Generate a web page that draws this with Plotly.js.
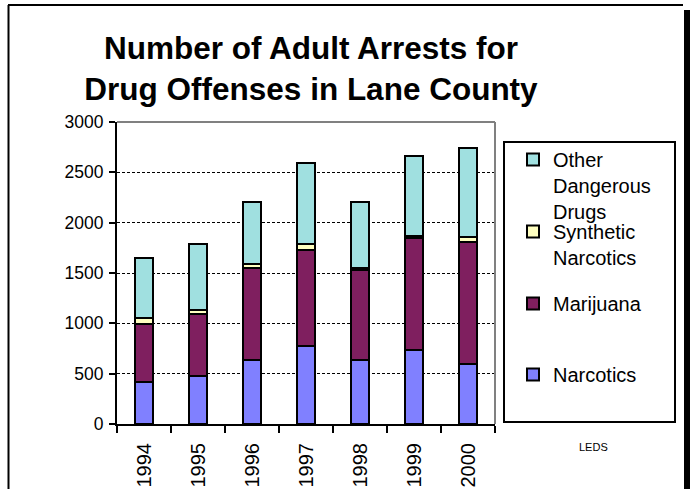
<!DOCTYPE html>
<html>
<head>
<meta charset="utf-8">
<script src="https://cdn.plot.ly/plotly-3.0.1.min.js"></script>
<style>html,body{margin:0;padding:0;background:#fff;}#chart{width:693px;height:489px;}</style>
</head>
<body>
<div id="chart"></div>
<script>
// ---- data ----
const years = ["1994", "1995", "1996", "1997", "1998", "1999", "2000"];
const narcotics = [415, 474, 634, 773, 634, 737, 594];
const marijuana = [574, 618, 915, 956, 896, 1108, 1214];
const syntheticNarcotics = [63, 39, 40, 63, 19, 23, 47];
const otherDangerousDrugs = [600, 657, 617, 796, 657, 796, 886];
const seriesNames = ["Narcotics", "Marijuana", "Synthetic<br>Narcotics", "Other<br>Dangerous<br>Drugs"];
const yTicks = [0, 500, 1000, 1500, 2000, 2500, 3000];

// ---- helpers: pixel -> paper ----
const L = 117, R = 495, T = 122, B = 424;
const px = x => (x - L) / (R - L);
const py = y => (B - y) / (B - T);

const colors = ["#8080FF", "#7F1F5F", "#FFFFC0", "#A0E0E0"];
const seriesVals = [narcotics, marijuana, syntheticNarcotics, otherDangerousDrugs];
const legendIds = ["legend4", "legend3", "legend2", "legend"];

const traces = seriesVals.map((vals, i) => ({
  type: "bar",
  x: years,
  y: vals,
  name: seriesNames[i],
  legend: legendIds[i],
  marker: { color: colors[i], line: { color: "#000", width: 2 } },
  hoverinfo: "x+y+name"
}));

const legendFont = { family: "Liberation Sans, Arial, sans-serif", size: 20, color: "#000" };
function leg(yTopPx) {
  return {
    x: px(513), xanchor: "left", y: py(yTopPx), yanchor: "top",
    valign: "top", bgcolor: "rgba(0,0,0,0)", borderwidth: 0,
    font: legendFont, tracegroupgap: 0
  };
}

const layout = {
  width: 693, height: 489,
  margin: { l: L, r: 693 - R, t: T, b: 489 - B, pad: 0 },
  paper_bgcolor: "#fff", plot_bgcolor: "#fff",
  barmode: "stack", bargap: 0.65,
  font: { family: "Liberation Sans, Arial, sans-serif", color: "#000" },
  title: {
    text: "Number of Adult Arrests for<br>Drug Offenses in Lane County",
    font: { family: "Liberation Sans, Arial, sans-serif", size: 31.5, color: "#000", weight: "bold" },
    x: 311 / 693, xanchor: "center", xref: "container",
    y: 1 - 59 / 489, yanchor: "middle", yref: "container"
  },
  xaxis: {
    type: "category", tickson: "boundaries", ticks: "outside", ticklen: 7, tickwidth: 2, tickcolor: "#000",
    tickangle: -90, tickfont: { size: 20, color: "#000" }, ticklabelstandoff: 9,
    showline: true, linecolor: "#000", linewidth: 2, showgrid: false, zeroline: false,
    fixedrange: true
  },
  yaxis: {
    range: [0, 3000], tickvals: yTicks, ticktext: yTicks.map(String),
    ticks: "outside", ticklen: 6, tickwidth: 2, tickcolor: "#000",
    tickfont: { size: 17.5, color: "#000" }, ticklabelstandoff: 2,
    showline: true, linecolor: "#000", linewidth: 2,
    showgrid: true, gridcolor: "#000", gridwidth: 1, griddash: "3px,2px",
    zeroline: false, fixedrange: true
  },
  showlegend: true,
  legend: leg(140),
  legend2: leg(212),
  legend3: leg(284),
  legend4: leg(355),
  shapes: [
    // plot area gray border (top & right)
    { type: "line", xref: "paper", yref: "paper", x0: 0, x1: 1, y0: 1, y1: 1, line: { color: "#808080", width: 2 } },
    { type: "line", xref: "paper", yref: "paper", x0: 1, x1: 1, y0: 0, y1: 1, line: { color: "#808080", width: 2 } },
    // legend box
    { type: "rect", xref: "paper", yref: "paper", x0: px(504), x1: px(675), y0: py(422), y1: py(142), line: { color: "#000", width: 2 }, fillcolor: "rgba(0,0,0,0)" },
    // outer frame
    { type: "line", xref: "paper", yref: "paper", x0: px(8.5), x1: px(8.5), y0: py(5), y1: py(489), line: { color: "#000", width: 2 } },
    { type: "line", xref: "paper", yref: "paper", x0: px(8), x1: px(683), y0: py(5), y1: py(5), line: { color: "#000", width: 2 } },
    { type: "rect", xref: "paper", yref: "paper", x0: px(684), x1: px(690), y0: py(489), y1: py(10), line: { width: 0 }, fillcolor: "#000" }
  ],
  annotations: [
    { text: "LEDS", xref: "paper", yref: "paper", x: px(593), y: py(447), xanchor: "center", yanchor: "middle",
      showarrow: false, font: { size: 11, color: "#000" } }
  ]
};

Plotly.newPlot("chart", traces, layout, { displayModeBar: false, staticPlot: true });
</script>
</body>
</html>
